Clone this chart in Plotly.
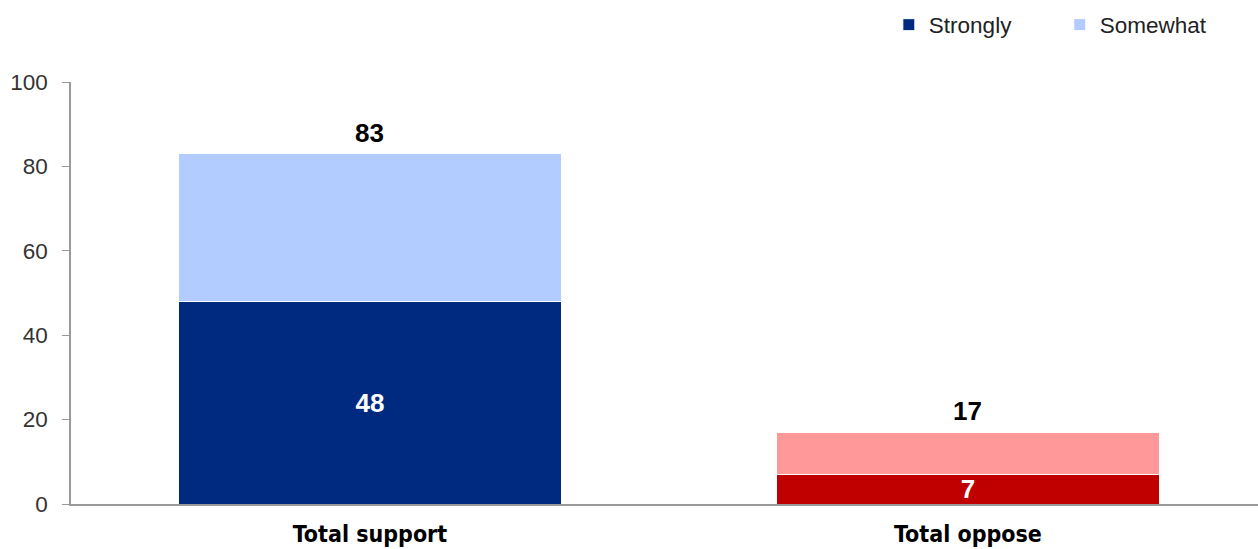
import plotly.graph_objects as go

categories = ["Total support", "Total oppose"]
strongly = [48, 7]
somewhat = [35, 10]
totals = [83, 17]
tick_vals = [0, 20, 40, 60, 80, 100]

strong_colors = ["#002A80", "#C00000"]
some_colors = ["#B3CCFF", "#FF9999"]

fig = go.Figure()
fig.add_trace(go.Bar(
    x=categories, y=strongly, name="Strongly", legend="legend", showlegend=True,
    marker=dict(color=strong_colors, line=dict(color="white", width=1)),
    text=[str(v) for v in strongly], textposition="inside", textangle=0,
    insidetextanchor="middle", constraintext="none",
    textfont=dict(family="Liberation Sans", size=26, color="white", weight="bold"),
    width=0.64,
))
fig.add_trace(go.Bar(
    x=categories, y=somewhat, name="Somewhat", legend="legend2", showlegend=True,
    marker=dict(color=some_colors, line=dict(color="white", width=1)),
    width=0.64,
))
for c, t in zip(categories, totals):
    fig.add_annotation(x=c, y=t, text=f"<b>{t}</b>", showarrow=False,
                       yanchor="bottom", yshift=4,
                       font=dict(family="Liberation Sans", size=26, color="black"))

legend_common = dict(orientation="h", xanchor="left", y=1.135, yanchor="middle",
                     font=dict(family="Liberation Sans", size=22.5, color="#222"),
                     itemwidth=30, bgcolor="rgba(0,0,0,0)")

fig.update_layout(
    barmode="stack",
    showlegend=True,
    width=1258, height=549,
    margin=dict(l=71, r=0, t=82, b=45),
    paper_bgcolor="white", plot_bgcolor="white",
    legend=dict(x=0.689, **legend_common),
    legend2=dict(x=0.833, **legend_common),
    font=dict(family="Liberation Sans", color="#222"),
)
fig.update_xaxes(range=[-0.5, 1.485], showline=True, linecolor="#999", linewidth=1.5,
                 ticks="", automargin=False, ticklabelstandoff=9,
                 tickfont=dict(family="DejaVu Sans Condensed", size=23, color="black", weight="bold"))
fig.update_yaxes(range=[0, 100], tickvals=tick_vals, showgrid=False, zeroline=False,
                 showline=True, linecolor="#999", linewidth=1.5, ticks="outside",
                 ticklen=7, tickcolor="#999", automargin=False, ticklabelstandoff=10,
                 tickfont=dict(family="Liberation Sans", size=22.5, color="#333"))

fig.write_html("out.html", config={"displayModeBar": False},
               post_script="document.body.style.margin='0';document.body.style.overflow='hidden';")
